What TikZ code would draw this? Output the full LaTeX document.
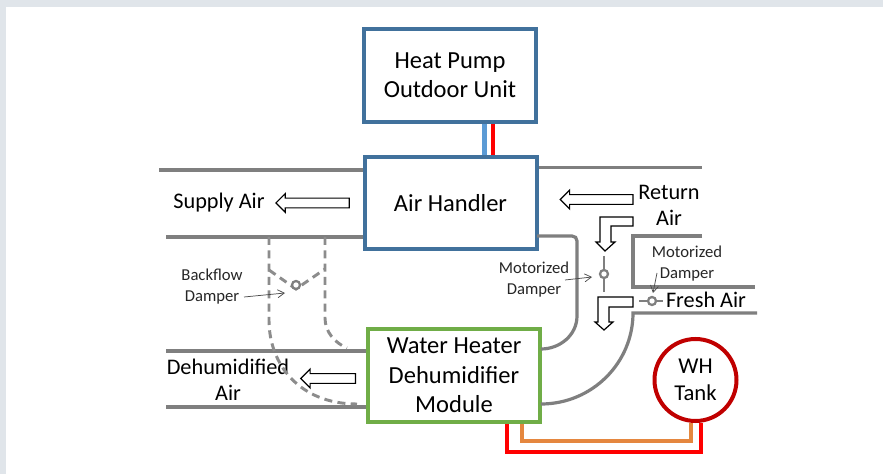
\documentclass[tikz,border=0pt]{standalone}
\usepackage{fontspec}
\setmainfont{Carlito}
\usetikzlibrary{positioning, arrows, arrows.meta, shapes.arrows}
\definecolor{backing}{HTML}{E0E5EA}
\definecolor{pumpblue}{HTML}{41719C}
\definecolor{pipeblue}{HTML}{5B9BD5}
\definecolor{modgreen}{HTML}{70AD47}
\definecolor{tankred}{HTML}{C00000}
\definecolor{ductgray}{HTML}{7F7F7F}
\definecolor{wateror}{HTML}{E5873F}

\begin{document}
\begin{tikzpicture}[x=0.75pt, y=-0.75pt]
\tikzstyle{unit}=[rectangle, draw, line width=3pt, fill=white, text=black, align=center,
        minimum width=129pt, minimum height=69.5pt, inner sep=0pt, font=\fontsize{18.4}{22}\selectfont]
\tikzstyle{tank}=[circle, draw=tankred, line width=3pt, fill=white, align=center,
        minimum size=61.5pt, inner sep=0pt, font=\fontsize{17}{20}\selectfont]
\tikzstyle{label}=[align=center, inner sep=0pt, font=\fontsize{16.7}{19.5}\selectfont]
\tikzstyle{small}=[align=center, inner sep=0pt, text=black!85, font=\fontsize{12.5}{15.7}\selectfont]
\tikzstyle{duct}=[-, draw=ductgray, line width=2.4pt]
\tikzstyle{bypass}=[-, draw=ductgray!90, line width=2.2pt, dash pattern=on 6pt off 4pt]
\tikzstyle{damper}=[-, draw=ductgray, line width=2.2pt]
\tikzstyle{pivot}=[circle, draw=ductgray, line width=1.7pt, fill=white, minimum size=6pt, inner sep=0pt]
\tikzstyle{pointer}=[-{Straight Barb[length=5pt, width=6pt]}, draw=black!70, line width=0.55pt]
\tikzstyle{flow}=[draw=black, line width=0.9pt, fill=white]
\tikzstyle{flowleft}=[single arrow, shape border rotate=180, draw=black, line width=0.9pt, fill=white,
        single arrow head extend=3.4pt, single arrow tip angle=90, inner xsep=0pt, inner ysep=3.2pt, minimum width=13.5pt]
\tikzstyle{pipe}=[-, line width=2.3pt]

% page
\useasboundingbox (0,0) rectangle (883,474);
\fill[backing] (0,0) rectangle (883,474);
\fill[white] (6,7) rectangle (883,474);

    % ducts go first, units sit on top of them
    \coordinate (supplytop) at (159,170);
    \coordinate (supplylow) at (166,237);
    \coordinate (returntop) at (702,167.5);
    \coordinate (returnlow) at (537,236);
    \coordinate (dehumtop) at (166,351);
    \coordinate (dehumlow) at (166,407);
    \coordinate (freshtop) at (755,287);
    \coordinate (freshlow) at (757,313);
    \coordinate (walltop) at (702,236);

    \node (hp) [unit, draw=pumpblue] at (450,75.5){Heat Pump\\Outdoor Unit};
    \node (ah) [unit, draw=pumpblue] at (450.5,203){Air Handler};
    \node (wh) [unit, draw=modgreen] at (454,375.5){Water Heater\\Dehumidifier\\Module};
    \node (tank) [tank] at (695.5,380){WH\\Tank};

    \node (supply) [label] at (219,203){Supply Air};
    \node (dehum) [label] at (228,380){Dehumidified\\Air};
    \node (return) [label] at (669,205){Return\\Air};
    \node (fresh) [label] at (706,300){Fresh Air};
    \node (backflow) [small] at (212,287){Backflow\\Damper};
    \node (motorleft) [small] at (534,280){Motorized\\Damper};
    \node (motorright) [small] at (687,264){Motorized\\Damper};

    \coordinate (ductah) at (ah.west |- supplytop);
    \coordinate (ductahlow) at (ah.west |- supplylow);
    \coordinate (ductwh) at (wh.west |- dehumtop);
    \coordinate (ductwhlow) at (wh.west |- dehumlow);
    \coordinate (ductret) at (ah.east |- returntop);

\draw[duct] (supplytop) -- (ductah);
\draw[duct] (supplylow) -- (ductahlow);
\draw[duct] (ductret) -- (returntop);
\draw[duct] (dehumtop) -- (ductwh);
\draw[duct] (dehumlow) -- (ductwhlow);
\draw[duct] (returnlow) -- (572,236) .. controls (575,236) and (577,238) .. (577,241) -- (577,316)
        .. controls (577,335) and (560,349) .. (541,349);
\draw[duct] (walltop) -- (633,236) -- (633,287) -- (freshtop);
\draw[duct] (freshlow) -- (633,313) .. controls (633,363) and (592,404) .. (541,404);

\draw[bypass] (269,237) -- (269,320) .. controls (269,365) and (300,404) .. (357,404);
\draw[bypass] (325,237) -- (325,318) .. controls (325,332) and (335,343) .. (347,348);
\draw[bypass] (269,270) -- (296,289) -- (325,269);
    \node (pivotback) [pivot] at (296,285){};

\draw[damper] (604,256) -- (604,292);
    \node (pivotleft) [pivot] at (604,274){};
\draw[damper] (639,301) -- (663,301);
    \node (pivotright) [pivot] at (652,301){};

\draw[pointer] (244,297) -- (285,293);
\draw[pointer] (565,280) -- (592,277);
\draw[pointer] (657,273) -- (653,293);

    \node (supplyflow) [flowleft, minimum height=55pt] at (315,203){};
    \node (returnflow) [flowleft, minimum height=54.5pt] at (599,199.5){};
    \node (dehumflow) [flowleft, minimum height=41pt] at (330.5,378.5){};

\draw[flow] (633,217) -- (600,217) -- (600,242) -- (596,242) -- (605,251) -- (615,242) -- (611,242)
        -- (611,226) -- (633,226) -- cycle;
\draw[flow] (633,297) -- (598,297) -- (598,322) -- (595,322) -- (604,330) -- (613,322) -- (609,322)
        -- (609,307) -- (633,307) -- cycle;

\draw[pipe, draw=pipeblue, line width=4pt] (hp.south -| 484.5,0) -- (ah.north -| 484.5,0);
\draw[pipe, draw=red] (hp.south -| 493,0) -- (ah.north -| 493,0);
\draw[pipe, draw=wateror] (wh.south -| 522,0) -- (522,441) -- (691,441) -- (tank.south -| 691,0);
\draw[pipe, draw=red] (wh.south -| 507,0) -- (507,452) -- (701,452) -- (tank.south -| 701,0);

\end{tikzpicture}
\end{document}
